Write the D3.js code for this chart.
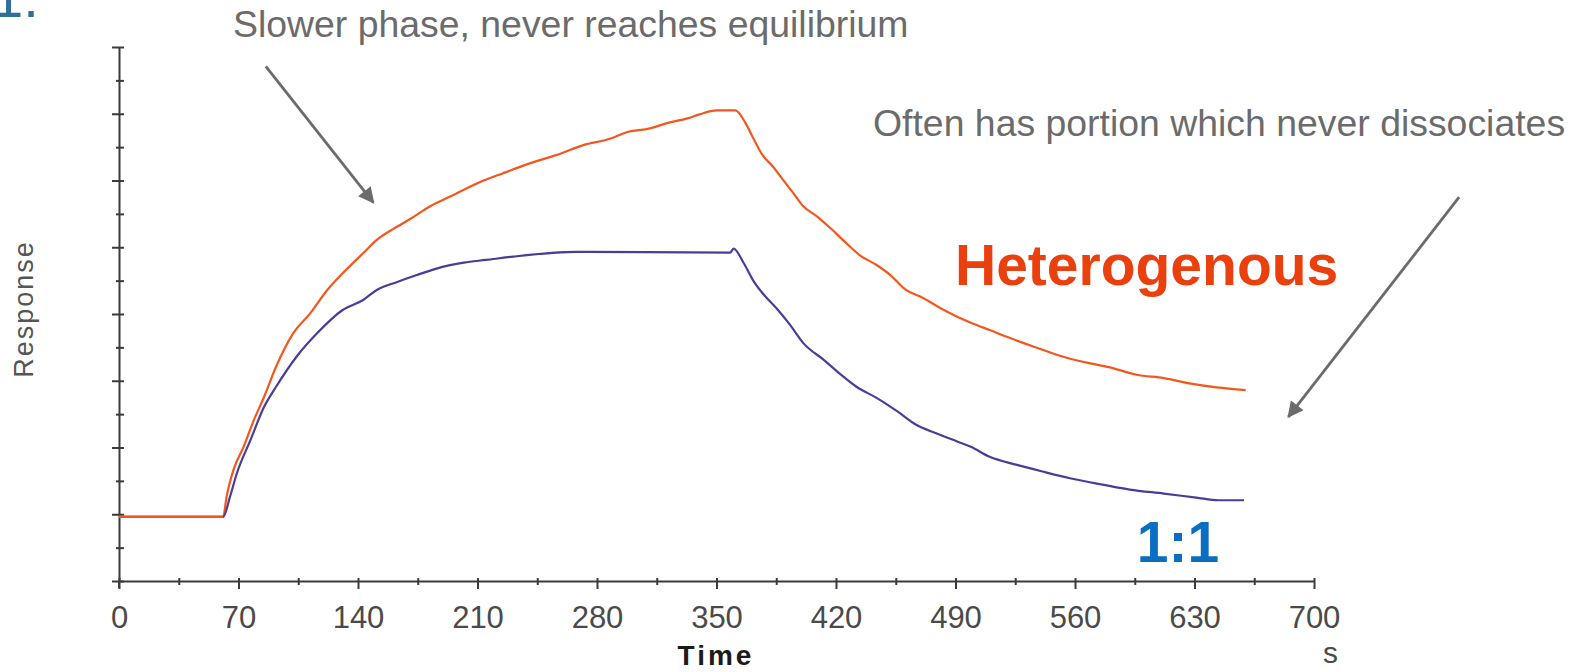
<!DOCTYPE html>
<html>
<head>
<meta charset="utf-8">
<script src="https://cdn.jsdelivr.net/npm/d3@7"></script>
<style>
  html, body { margin: 0; padding: 0; background: #fff; overflow: hidden; }
  svg { display: block; }
</style>
</head>
<body>
<svg id="chart" width="1583" height="672"></svg>
<script>
// Sensorgram: association (61–361 s) and dissociation (361–660 s) phases
const timeTicks = [0, 70, 140, 210, 280, 350, 420, 490, 560, 630, 700];
const timeMinorTicks = [35, 105, 175, 245, 315, 385, 455, 525, 595, 665];
const responseTicks = [0, 100, 200, 300, 400, 500, 600, 700, 800];
const responseMinorTicks = [50, 150, 250, 350, 450, 550, 650, 750];

// Heterogenous binding curve
const hetTime = [0, 61, 63, 67, 73, 79, 85, 92, 102, 112, 122, 131, 143, 151, 161, 171, 182, 194,
  210, 225, 241, 256, 272, 288, 297, 311, 321, 333, 340, 350, 361,
  367, 372, 377, 383, 389, 395, 401, 409, 417, 424, 434, 444, 452, 461, 471, 481, 491, 499,
  510, 522, 538, 553, 569, 582, 596, 612, 627, 643, 660];
const hetResp = [96, 96, 126, 166, 201, 241, 276, 321, 371, 401, 436, 461, 491, 511, 528, 543, 561, 576,
  596, 611, 626, 638, 653, 663, 672, 678, 686, 693, 699, 705, 705,
  686, 661, 638, 621, 601, 581, 561, 546, 528, 511, 488, 473, 458, 436, 424, 409, 396, 387,
  376, 364, 349, 336, 326, 319, 309, 304, 296, 290, 286];

// 1:1 binding curve
const oneTime = [0, 61, 65, 69, 77, 85, 92, 104, 116, 131, 143, 151, 163, 174, 190, 202, 215, 231,
  268, 358, 360, 366, 372, 378, 385, 393, 401, 413, 422, 432, 444, 456, 467, 479, 491, 499,
  510, 526, 541, 557, 577, 592, 612, 631, 644, 659];
const oneResp = [96, 96, 126, 161, 211, 261, 291, 336, 371, 406, 421, 436, 448, 458, 471, 477, 481, 486,
  493, 492, 498, 476, 448, 428, 409, 384, 356, 331, 311, 291, 274, 254, 234, 221, 209, 201,
  186, 174, 164, 154, 144, 137, 131, 125, 121, 121];

const seriesNames = ["Heterogenous", "1:1"];
const seriesColors = ["#f4571d", "#4b3c98"];

const svg = d3.select("#chart");
const x = d3.scaleLinear().domain([0, 700]).range([119, 1314]);
const y = d3.scaleLinear().domain([0, 800]).range([581, 47]);

const axisColor = "#3b3b3b";
const sans = "'Liberation Sans', Arial, sans-serif";

// ---- x axis ----
const xMinor = svg.append("g").attr("transform", `translate(0,${y(0)})`)
  .call(d3.axisBottom(x).tickValues(timeMinorTicks).tickSize(4).tickSizeOuter(0).tickFormat(""));
xMinor.select(".domain").remove();
xMinor.selectAll(".tick line").attr("y1", -3).attr("stroke", axisColor).attr("stroke-width", 2);

const xAxis = svg.append("g").attr("transform", `translate(0,${y(0)})`)
  .call(d3.axisBottom(x).tickValues(timeTicks).tickSize(8).tickSizeOuter(0).tickFormat(d3.format("d")));
xAxis.select(".domain").attr("stroke", axisColor).attr("stroke-width", 2);
xAxis.selectAll(".tick line").attr("y1", -3).attr("stroke", axisColor).attr("stroke-width", 2);
xAxis.selectAll(".tick text")
  .attr("y", 47).attr("dy", 0)
  .attr("fill", "#4a4a4a")
  .style("font-family", sans)
  .style("font-size", "31px");

// ---- y axis (unlabelled) ----
const yMinor = svg.append("g").attr("transform", `translate(${x(0)},0)`)
  .call(d3.axisLeft(y).tickValues(responseMinorTicks).tickSize(3).tickSizeOuter(0).tickFormat(""));
yMinor.select(".domain").remove();
yMinor.selectAll(".tick line").attr("x1", 5).attr("stroke", axisColor).attr("stroke-width", 2);

const yAxis = svg.append("g").attr("transform", `translate(${x(0)},0)`)
  .call(d3.axisLeft(y).tickValues(responseTicks).tickSize(7).tickSizeOuter(0).tickFormat(""));
yAxis.select(".domain").attr("stroke", axisColor).attr("stroke-width", 2);
yAxis.selectAll(".tick line").attr("x1", 5).attr("stroke", axisColor).attr("stroke-width", 2);
// extend the baseline tick below the x axis
svg.append("line")
  .attr("x1", x(0)).attr("x2", x(0)).attr("y1", y(0)).attr("y2", y(0) + 7)
  .attr("stroke", axisColor).attr("stroke-width", 2);

// ---- axis titles ----
svg.append("text")
  .attr("x", 716).attr("y", 665)
  .attr("text-anchor", "middle")
  .attr("fill", "#1b1b1b")
  .style("font-family", sans)
  .style("font-weight", "bold")
  .style("font-size", "28px")
  .style("letter-spacing", "3px")
  .text("Time");

svg.append("text")
  .attr("x", 1338).attr("y", 663)
  .attr("text-anchor", "end")
  .attr("fill", "#4a4a4a")
  .style("font-family", sans)
  .style("font-size", "30px")
  .text("s");

svg.append("text")
  .attr("transform", "translate(33,309) rotate(-90)")
  .attr("text-anchor", "middle")
  .attr("fill", "#555")
  .style("font-family", sans)
  .style("font-size", "27px")
  .style("letter-spacing", "2px")
  .text("Response");

// ---- curves ----
const line = d3.line()
  .x(d => x(d[0]))
  .y(d => y(d[1]))
  .curve(d3.curveMonotoneX);

const oneData = oneTime.map((t, i) => [t, oneResp[i]]);
const hetData = hetTime.map((t, i) => [t, hetResp[i]]);

svg.append("path")
  .datum(hetData)
  .attr("d", line)
  .attr("fill", "none")
  .attr("stroke", seriesColors[0])
  .attr("stroke-width", 2.2)
  .attr("stroke-linejoin", "round");

svg.append("path")
  .datum(oneData)
  .attr("d", line)
  .attr("fill", "none")
  .attr("stroke", seriesColors[1])
  .attr("stroke-width", 2.2)
  .attr("stroke-linejoin", "round");

// orange baseline drawn over the shared flat segment
svg.append("path")
  .datum(hetData.slice(0, 2))
  .attr("d", line)
  .attr("fill", "none")
  .attr("stroke", seriesColors[0])
  .attr("stroke-width", 2.2);

// ---- series labels ----
svg.append("text")
  .attr("x", 955).attr("y", 285)
  .attr("fill", "#ea400e")
  .style("font-family", sans)
  .style("font-weight", "bold")
  .style("font-size", "57px")
  .text(seriesNames[0]);

svg.append("text")
  .attr("x", 1178).attr("y", 562)
  .attr("text-anchor", "middle")
  .attr("fill", "#0a6fc2")
  .style("font-family", sans)
  .style("font-weight", "bold")
  .style("font-size", "57px")
  .text(seriesNames[1]);

// ---- annotations ----
const noteColor = "#6b6b6b";
svg.append("defs").append("marker")
  .attr("id", "arrowhead")
  .attr("viewBox", "0 0 10 10")
  .attr("refX", 9).attr("refY", 5)
  .attr("markerUnits", "userSpaceOnUse")
  .attr("markerWidth", 18).attr("markerHeight", 16)
  .attr("orient", "auto")
  .append("path")
  .attr("d", "M0,0 L10,5 L0,10 Z")
  .attr("fill", noteColor);

const arrows = [
  { from: [86, 771], to: [149, 567] },
  { from: [785, 575], to: [685, 246] }
];
svg.selectAll("line.arrow")
  .data(arrows)
  .join("line")
  .attr("class", "arrow")
  .attr("x1", d => x(d.from[0])).attr("y1", d => y(d.from[1]))
  .attr("x2", d => x(d.to[0])).attr("y2", d => y(d.to[1]))
  .attr("stroke", noteColor)
  .attr("stroke-width", 2.8)
  .attr("marker-end", "url(#arrowhead)");

svg.append("text")
  .attr("x", 233).attr("y", 37)
  .attr("fill", noteColor)
  .style("font-family", sans)
  .style("font-size", "37.4px")
  .text("Slower phase, never reaches equilibrium");

svg.append("text")
  .attr("x", 873).attr("y", 136)
  .attr("fill", noteColor)
  .style("font-family", sans)
  .style("font-size", "37.4px")
  .text("Often has portion which never dissociates");

// section number at the top edge
svg.append("text")
  .attr("x", -8).attr("y", 17)
  .attr("fill", "#2f6f98")
  .style("font-family", sans)
  .style("font-size", "56px")
  .text("1.");
</script>
</body>
</html>
